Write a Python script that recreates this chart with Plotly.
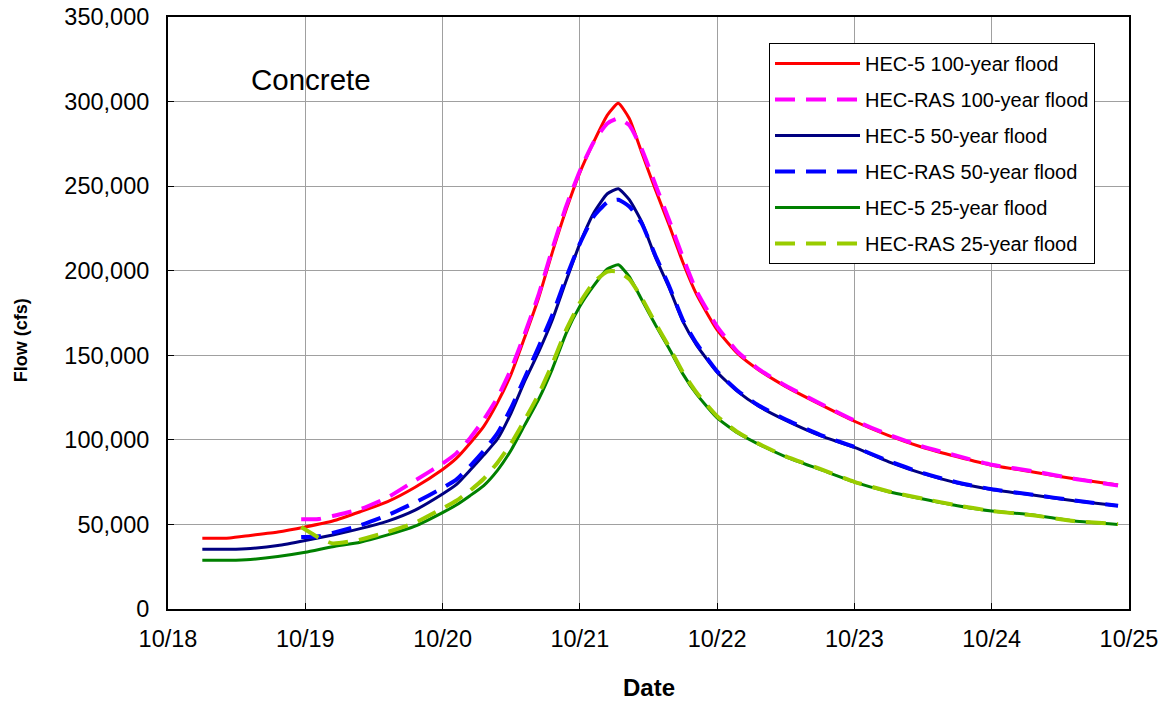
import pandas as pd
import plotly.graph_objects as go

# time in days after 10/18 00:00
t_hec5 = [0.25, 0.45, 0.6, 0.8, 1.0, 1.2, 1.4, 1.6, 1.8, 2.0, 2.1, 2.2, 2.3, 2.4,
          2.5, 2.6, 2.7, 2.8, 2.9, 3.0, 3.1, 3.2, 3.28, 3.36, 3.45, 3.55, 3.65,
          3.75, 3.85, 4.0, 4.15, 4.3, 4.5, 4.75, 5.0, 5.25, 5.5, 5.75, 6.0, 6.3,
          6.6, 6.92]

hec5_100 = [41800, 42000, 43500, 45500, 48500, 52000, 57500, 63500, 72000, 82500,
            89000, 98000, 108000, 122000, 139000, 161000, 184000, 211000, 236000,
            258000, 276000, 292000, 299000, 290000, 270000, 248000, 227000, 205000,
            186000, 165000, 151000, 141500, 131500, 121000, 111000, 102500, 95500,
            90000, 85000, 81000, 77000, 73300]

hec5_50 = [35300, 35300, 35800, 37500, 40500, 43800, 47500, 52000, 58500, 68000,
           73500, 82000, 91000, 100500, 116000, 135000, 152000, 171000, 194000,
           216000, 234000, 245500, 248500, 242000, 229000, 208000, 190000, 170000,
           156000, 140000, 128500, 120000, 111500, 102500, 95500, 87000, 80000,
           74500, 70700, 67400, 64000, 61100]

hec5_25 = [28800, 28800, 29300, 31000, 33500, 36800, 39500, 43800, 49000, 57000,
           61500, 67000, 73000, 82000, 94000, 109000, 124000, 142000, 163000,
           179000, 191000, 201000, 203500, 196500, 183000, 168000, 154000, 139000,
           127000, 113000, 104000, 97500, 90000, 82500, 75000, 69300, 65000,
           61000, 57900, 55600, 52000, 50000]

t_ras = [0.97, 1.05, 1.1, 1.2, 1.4, 1.6, 1.8, 2.0, 2.1, 2.2, 2.3, 2.4, 2.5, 2.6,
         2.7, 2.8, 2.9, 3.0, 3.1, 3.2, 3.28, 3.36, 3.45, 3.55, 3.65, 3.75, 3.85,
         4.0, 4.15, 4.3, 4.5, 4.75, 5.0, 5.25, 5.5, 5.75, 6.0, 6.3, 6.6, 6.92]

ras_100 = [53000, 53000, 53200, 55000, 59000, 66000, 76000, 86000, 92000, 101000,
           112000, 125000, 142000, 163000, 186000, 213000, 238000, 259000, 276000,
           287000, 290000, 286000, 272000, 251000, 230000, 208000, 188000, 167000,
           152000, 142000, 132000, 121500, 111500, 103000, 96000, 90500, 85300,
           81500, 77000, 73000]

ras_50 = [42500, 42700, 43000, 45000, 49500, 55500, 63000, 71500, 76500, 84500,
          93500, 104000, 119000, 137000, 155000, 174000, 196000, 216000, 232000,
          240500, 242000, 238000, 228000, 209000, 191000, 171000, 157000, 140500,
          129000, 120500, 112000, 103000, 95800, 87500, 80300, 74800, 70800,
          67500, 64200, 61000]

ras_25 = [48500, 44500, 42000, 38800, 41000, 45500, 51000, 59500, 64000, 70000,
          77000, 86500, 98000, 112000, 127000, 145000, 165000, 181000, 193000,
          199500, 199500, 195000, 184000, 169000, 155000, 140000, 128000, 114000,
          104500, 97800, 90200, 82800, 75200, 69500, 65200, 61200, 58000, 55400,
          52000, 50200]

start = pd.Timestamp("2000-10-18")


def to_dates(days):
    return [start + pd.Timedelta(days=d) for d in days]


series = [
    ("HEC-5 100-year flood", t_hec5, hec5_100, "#FF0000", "solid", 3),
    ("HEC-RAS 100-year flood", t_ras, ras_100, "#FF00FF", "20px,11px", 4),
    ("HEC-5 50-year flood", t_hec5, hec5_50, "#000080", "solid", 3),
    ("HEC-RAS 50-year flood", t_ras, ras_50, "#0000FF", "20px,11px", 4),
    ("HEC-5 25-year flood", t_hec5, hec5_25, "#008000", "solid", 3),
    ("HEC-RAS 25-year flood", t_ras, ras_25, "#99CC00", "20px,11px", 4),
]

fig = go.Figure()
for i, (name, t, q, color, dash, w) in enumerate(series):
    fig.add_trace(go.Scatter(x=to_dates(t), y=q, name=name, mode="lines",
                             legendgroup=str(i),
                             line=dict(color=color, dash=dash, width=w,
                                       shape="spline", smoothing=0.5)))

fig.update_layout(
    width=1167, height=702,
    margin=dict(l=168, r=38, t=17, b=93),
    plot_bgcolor="white", paper_bgcolor="white",
    font=dict(family="Liberation Sans, Arial, sans-serif", size=20, color="black"),
    showlegend=True,
    legend=dict(x=0.6254, y=0.956, xanchor="left", yanchor="top",
                bgcolor="white", bordercolor="black", borderwidth=1,
                font=dict(size=20), tracegroupgap=7, itemwidth=85,
                entrywidth=245),
)

fig.update_xaxes(
    type="date", range=[start, start + pd.Timedelta(days=7)],
    tick0=start, dtick=86400000, tickformat="%m/%d",
    showgrid=True, gridcolor="#A0A0A0", gridwidth=1,
    showline=True, linecolor="black", linewidth=2, mirror=True,
    ticks="inside", ticklen=6, tickcolor="black", ticklabelstandoff=8,
    tickfont=dict(size=23.5), automargin=False,
)
fig.update_yaxes(
    range=[0, 350000], dtick=50000, tickformat=",d",
    showgrid=True, gridcolor="#A0A0A0", gridwidth=1,
    showline=True, linecolor="black", linewidth=2, mirror=True,
    ticks="inside", ticklen=6, tickcolor="black", ticklabelstandoff=12,
    tickfont=dict(size=23.5), zeroline=False, automargin=False,
)

fig.add_annotation(text="Concrete", xref="paper", yref="paper", x=0.084, y=0.895,
                   xanchor="left", yanchor="middle", showarrow=False,
                   font=dict(size=29.5))
fig.add_annotation(text="<b>Flow (cfs)</b>", xref="paper", yref="paper",
                   x=-0.153, y=0.454, textangle=-90, showarrow=False,
                   xanchor="center", yanchor="middle", font=dict(size=18))
fig.add_annotation(text="<b>Date</b>", xref="paper", yref="paper",
                   x=0.5, y=-0.132, showarrow=False,
                   xanchor="center", yanchor="middle", font=dict(size=24))

fig.write_html("out.html", config={"displayModeBar": False},
               post_script="document.body.style.margin='0';")
